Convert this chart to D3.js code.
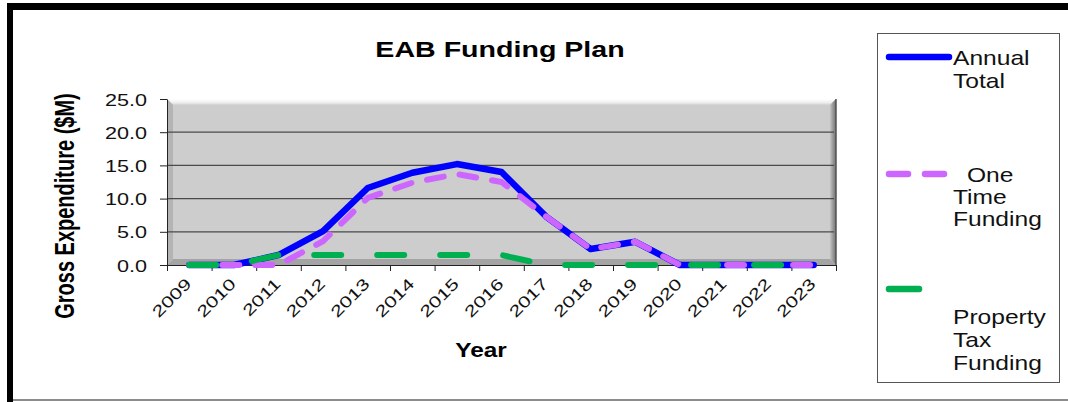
<!DOCTYPE html>
<html>
<head>
<meta charset="utf-8">
<script src="https://cdn.jsdelivr.net/npm/d3@7"></script>
<style>
  body { margin: 0; background: #fff; }
  text { font-family: "Liberation Sans", Arial, sans-serif; }
</style>
</head>
<body>
<div id="chart"></div>
<script>
// ----------------------------------------------- //
// Data ($M)
var years = ["2009", "2010", "2011", "2012", "2013", "2014", "2015", "2016",
    "2017", "2018", "2019", "2020", "2021", "2022", "2023"];
var annualTotal = [0, 0, 1.5, 5.1, 11.6, 13.9, 15.2, 14.0, 7.3, 2.4, 3.5, 0, 0, 0, 0];
var oneTimeFunding = [0, 0, 0, 3.6, 10.1, 12.4, 13.7, 12.5, 7.3, 2.4, 3.5, 0, 0, 0, 0];
var propertyTaxFunding = [0, 0, 1.5, 1.5, 1.5, 1.5, 1.5, 1.5, 0, 0, 0, 0, 0, 0, 0];
var yTicks = [0, 5, 10, 15, 20, 25];

// ----------------------------------------------- //
var svgWidth = 1068;
var svgHeight = 402;

var plot = { left: 167, right: 836, top: 99, bottom: 265 };

var svg = d3.select("#chart")
    .append("svg")
    .attr("width", svgWidth)
    .attr("height", svgHeight);

// Frame: thick black top / left, thin grey bottom
svg.append("rect").attr("x", 7).attr("y", 3).attr("width", 1061).attr("height", 7).attr("fill", "#000");
svg.append("rect").attr("x", 7).attr("y", 3).attr("width", 6).attr("height", 399).attr("fill", "#000");
svg.append("line").attr("x1", 13).attr("x2", 1068).attr("y1", 400).attr("y2", 400)
    .attr("stroke", "#666").attr("stroke-width", 1.5);

// Scales
var xScale = d3.scaleBand().domain(years).range([plot.left, plot.right]);
var xEdge = d3.scaleLinear().domain([0, years.length]).range([plot.left, plot.right]);
var yScale = d3.scaleLinear().domain([0, 25]).range([plot.bottom, plot.top]);

// ----------------------------------------------- //
// Plot area with a bevelled look
var defs = svg.append("defs");
var gTop = defs.append("linearGradient").attr("id", "gTop").attr("x1", 0).attr("y1", 0).attr("x2", 0).attr("y2", 1);
gTop.append("stop").attr("offset", "0%").attr("stop-color", "#ffffff");
gTop.append("stop").attr("offset", "60%").attr("stop-color", "#eeeeee");
gTop.append("stop").attr("offset", "100%").attr("stop-color", "#d0d0d0");
var gRight = defs.append("linearGradient").attr("id", "gRight").attr("x1", 0).attr("y1", 0).attr("x2", 1).attr("y2", 0);
gRight.append("stop").attr("offset", "0%").attr("stop-color", "#c4c4c4");
gRight.append("stop").attr("offset", "100%").attr("stop-color", "#6e6e6e");

var b = 6;
var P = plot;
svg.append("rect").attr("x", P.left).attr("y", P.top)
    .attr("width", P.right - P.left).attr("height", P.bottom - P.top).attr("fill", "#cdcdcd");
svg.append("polygon").attr("fill", "url(#gTop)")
    .attr("points", [[P.left, P.top], [P.right, P.top], [P.right - b, P.top + b], [P.left + b, P.top + b]].join(" "));
svg.append("polygon").attr("fill", "url(#gRight)")
    .attr("points", [[P.right, P.top], [P.right, P.bottom], [P.right - b, P.bottom - b], [P.right - b, P.top + b]].join(" "));
svg.append("polygon").attr("fill", "#a4a4a4")
    .attr("points", [[P.left, P.bottom], [P.right, P.bottom], [P.right - b, P.bottom - b], [P.left + b, P.bottom - b]].join(" "));
svg.append("polygon").attr("fill", "#b4b4b4")
    .attr("points", [[P.left, P.top], [P.left + b, P.top + b], [P.left + b, P.bottom - b], [P.left, P.bottom]].join(" "));

// Gridlines
svg.append("g").selectAll("line")
    .data(yTicks.filter(d => d > 0 && d < 25))
    .enter()
    .append("line")
    .attr("x1", P.left).attr("x2", P.right - 2)
    .attr("y1", d => yScale(d)).attr("y2", d => yScale(d))
    .attr("stroke", "#4a4a4a").attr("stroke-width", 1.2);

svg.append("line").attr("x1", P.right).attr("x2", P.right).attr("y1", P.top).attr("y2", P.bottom)
    .attr("stroke", "#555").attr("stroke-width", 1.5);

// ----------------------------------------------- //
// Y axis
var leftAxis = d3.axisLeft(yScale).tickValues(yTicks).tickFormat(d3.format(".1f")).tickSize(7).tickSizeOuter(0);
var yAxis = svg.append("g")
    .attr("transform", `translate(${P.left}, 0)`)
    .call(leftAxis);
yAxis.select(".domain").attr("stroke", "#222");
yAxis.selectAll(".tick line").attr("stroke", "#222");
yAxis.selectAll("text")
    .attr("x", 0)
    .attr("transform", "translate(-20, 1) scale(1.35, 1)")
    .attr("fill", "#111")
    .style("font-size", "16px");

// X axis: ticks on category edges, labels at centres
var edgeAxis = d3.axisBottom(xEdge).tickValues(d3.range(years.length + 1)).tickSize(6).tickFormat("").tickSizeOuter(0);
var xAxis = svg.append("g")
    .attr("transform", `translate(0, ${P.bottom})`)
    .call(edgeAxis);
xAxis.select(".domain").attr("stroke", "#222");
xAxis.selectAll(".tick line").attr("stroke", "#222");

svg.append("g").selectAll("text")
    .data(years)
    .enter()
    .append("text")
    .attr("text-anchor", "end")
    .attr("transform", d => `translate(${xScale(d) + xScale.bandwidth() / 2 + 3}, 285) rotate(-45) scale(1.33, 1)`)
    .style("font-size", "16px")
    .attr("fill", "#111")
    .text(d => d);

// ----------------------------------------------- //
// Lines
var series = [
    { name: "Annual Total", values: annualTotal, color: "#0000ff", width: 6.5, dash: null },
    { name: "One Time Funding", values: oneTimeFunding, color: "#cc66ff", width: 6, dash: "17,16" },
    { name: "Property Tax Funding", values: propertyTaxFunding, color: "#00b050", width: 6, dash: "27,36" }
];

var line = d3.line()
    .x((d, i) => xScale(years[i]) + xScale.bandwidth() / 2)
    .y(d => yScale(d));

series.forEach(function(s) {
    svg.append("path")
        .datum(s.values)
        .attr("d", line)
        .attr("fill", "none")
        .attr("stroke", s.color)
        .attr("stroke-width", s.width)
        .attr("stroke-linecap", "round")
        .attr("stroke-linejoin", "round")
        .attr("stroke-dasharray", s.dash);
});

// ----------------------------------------------- //
// Titles
svg.append("text")
    .attr("text-anchor", "middle")
    .attr("transform", "translate(500, 57) scale(1.3, 1)")
    .style("font-size", "22px").style("font-weight", "bold")
    .text("EAB Funding Plan");

svg.append("text")
    .attr("text-anchor", "middle")
    .attr("transform", "translate(481, 357) scale(1.22, 1)")
    .style("font-size", "20px").style("font-weight", "bold")
    .text("Year");

svg.append("text")
    .attr("text-anchor", "middle")
    .attr("transform", "translate(74, 206) rotate(-90) scale(1, 1.35)")
    .style("font-size", "20px").style("font-weight", "bold")
    .text("Gross Expenditure ($M)");

// ----------------------------------------------- //
// Legend
svg.append("rect").attr("x", 877.5).attr("y", 33.5).attr("width", 182).attr("height", 349)
    .attr("fill", "#fff").attr("stroke", "#555").attr("stroke-width", 1);

var legendItems = [
    { color: "#0000ff", dash: null, x2: 949, y: 57, lines: [["Annual", 953, 65], ["Total", 953, 88]] },
    { color: "#cc66ff", dash: "19,17", x2: 945, y: 174, lines: [["One", 967, 182], ["Time", 953, 204], ["Funding", 953, 226]] },
    { color: "#00b050", dash: null, x2: 919, y: 289, lines: [["Property", 953, 324], ["Tax", 953, 347], ["Funding", 953, 370]] }
];

legendItems.forEach(function(item) {
    svg.append("line")
        .attr("x1", 889).attr("x2", item.x2).attr("y1", item.y).attr("y2", item.y)
        .attr("stroke", item.color).attr("stroke-width", 6.5)
        .attr("stroke-linecap", "round")
        .attr("stroke-dasharray", item.dash);
    item.lines.forEach(function(t) {
        svg.append("text")
            .attr("transform", `translate(${t[1]}, ${t[2]}) scale(1.2, 1)`)
            .style("font-size", "20.5px")
            .attr("fill", "#111")
            .text(t[0]);
    });
});
</script>
</body>
</html>
